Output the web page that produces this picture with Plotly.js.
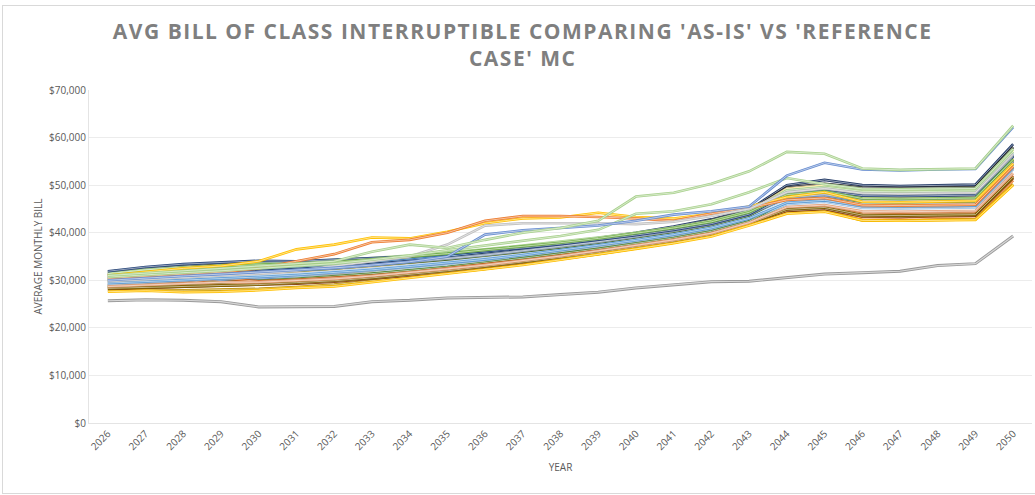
<!DOCTYPE html>
<html>
<head>
<meta charset="utf-8">
<script src="https://cdn.plot.ly/plotly-3.0.1.min.js"></script>
<style>
  body { margin: 0; background: #fff; }
  #wrap { position: relative; width: 1035px; height: 495px; overflow: hidden; }
  #frame { position: absolute; left: 2px; top: 5px; width: 1040px; height: 487px; border: 1px solid #d9d9d9; pointer-events: none; }
  .gtitle { letter-spacing: 1.5px; }
</style>
</head>
<body>
<div id="wrap">
  <div id="bill-chart" style="width:1035px;height:495px;"></div>
  <div id="frame"></div>
</div>
<script>
var years = ['2026','2027','2028','2029','2030','2031','2032','2033','2034','2035','2036','2037','2038','2039','2040','2041','2042','2043','2044','2045','2046','2047','2048','2049','2050'];

// 'as-is' case
var asIs = [25700,25900,25800,25500,24400,24500,24500,25500,25800,26300,26400,26500,27000,27500,28400,29100,29700,29800,30500,31300,31600,31900,33100,33500,39300];

// reference case monte carlo runs
var mc01 = [31500,31800,32200,32600,33000,33300,33700,34200,34800,35400,36200,37000,37900,38900,40000,41300,42800,44800,50000,51100,50000,49800,49900,50100,58600];
var mc02 = [31000,31600,32000,32300,32800,33100,33600,34100,34700,35300,36000,36800,37700,38700,39800,41000,42600,44600,49500,50300,49500,49400,49500,49600,58000];
var mc03 = [30500,31000,31300,31700,32000,32500,33000,33600,34300,35000,35800,36600,37500,38400,39500,40700,42200,44300,49200,49900,49000,48900,49100,49200,57400];
var mc04 = [30200,30600,31000,31400,31700,32100,32600,33200,33900,34700,35500,36300,37200,38100,39200,40400,41900,44000,48800,49500,48500,48400,48500,48600,56700];
var mc05 = [29800,30300,30700,31000,31300,31800,32300,32900,33600,34400,35200,36000,36900,37900,39000,40100,41600,43700,48300,49000,48000,47900,48000,48100,56200];
var mc06 = [31800,32500,33000,33600,33200,33400,33800,34200,34600,35100,35700,36400,37200,38100,39100,40200,41500,43400,47800,48500,47300,47200,47300,47400,55500];
var mc07 = [31200,32000,32600,33300,33000,33200,33500,33900,34400,35000,35600,36300,37100,38000,39000,40100,41400,43300,47500,48200,47000,46900,47000,47100,55200];
var mc08 = [29500,29800,30100,30300,30600,31000,31500,32100,32800,33500,34300,35100,36000,37000,38100,39300,40800,42900,47200,47900,46700,46600,46700,46800,54800];
var mc09 = [30800,31300,31700,32000,32400,32800,33300,33800,34400,35000,35700,36500,37400,38400,39500,40700,42000,44000,48000,48600,47600,47500,47600,47700,55800];
var mc10 = [28800,29000,29300,29500,29800,30200,30700,31300,32000,32800,33600,34500,35500,36500,37600,38700,40100,42200,46200,47000,45700,45600,45700,45800,53800];
var mc11 = [29000,29400,30600,30100,30400,30900,31500,32100,32900,33700,34600,35500,36500,37500,38600,39800,41200,43200,47000,47600,46300,46200,46300,46400,54400];
var mc12 = [28500,28700,29000,29200,29400,29700,30100,30600,31300,32000,32900,33800,34800,35900,37000,38200,39600,41800,44300,44700,43000,42900,43100,43200,51000];
var mc13 = [27800,28000,27900,28000,28200,28600,29100,29900,30700,31500,32400,33400,34400,35500,36700,37900,39400,41700,44200,44600,42600,42500,42700,42800,50200];
var mc14 = [28200,28400,28600,28800,29000,29300,29700,30300,31000,31800,32700,33600,34600,35700,36900,38100,39500,41900,44600,45000,43400,43300,43500,43600,51500];
var mc15 = [29300,29600,29900,30200,30500,30900,31400,32000,32700,33400,34200,35100,36100,37100,38200,39400,40800,42800,46000,46500,45200,45100,45200,45300,53300];
var mc16 = [29700,30000,30400,30700,31000,31400,31900,32500,33200,33900,34700,35600,36500,37500,38600,39800,41200,43200,46600,47100,45900,45800,45900,46000,54000];
var mc17 = [28600,28900,29200,29500,29900,30300,30800,31400,32100,32800,33700,34600,35600,36600,37700,38900,40300,42400,46800,47300,46100,46000,46100,46200,54200];
var mc18 = [30600,31100,31500,31800,32100,32600,33100,33700,34300,35000,35800,36700,37600,38600,39700,40900,42400,44500,48600,49200,48200,48100,48200,48300,56400];
var mc19 = [30000,30400,30800,31100,31500,31900,32400,33000,33700,34400,35200,36100,37000,38000,39100,40300,41700,43800,47800,48400,47400,47300,47400,47500,55600];
var mc20 = [28900,29100,29400,30400,29800,30100,30500,31000,31700,32500,33300,34200,35200,36200,37300,38500,39900,42000,45000,45500,44000,43900,44000,44100,52000];
var mc21 = [29100,29500,29900,30200,30600,31000,31500,32100,32800,33600,34400,35300,36300,37300,38400,39600,41000,43100,46400,46900,45500,45400,45500,45600,53600];
var mc22 = [31400,32200,32700,33100,33500,33800,34200,34700,35200,35800,36500,37300,38100,39000,40000,41100,42500,44500,48900,49600,48700,48600,48700,48800,57000];
var mc23 = [30300,30800,31200,31500,31900,32300,32800,33400,34000,34700,35500,36300,37200,38200,39300,40500,41900,44000,48400,49000,48000,47900,48000,48100,56300];
var mc24 = [28300,28500,28700,28900,29100,29500,29900,30500,31200,32000,32900,33800,34800,35800,37000,38200,39600,41900,44900,45300,43700,43600,43700,43800,51700];
var mc25 = [29600,29900,30300,30600,30900,31300,31800,32400,33100,33800,34600,35500,36500,37500,38600,39800,41200,43300,46700,47200,45900,45800,45900,46000,54100];
var mc26 = [29900,30400,30800,31300,31600,32000,32500,33100,33700,34400,35200,36000,36900,37900,39000,40200,41600,43600,47600,48200,47000,46900,47000,47100,55000];
var mc27 = [28700,29000,29300,29600,29600,29900,30300,30900,31600,32400,33200,34100,35100,36200,37300,38500,39900,42100,45400,45800,44500,44400,44500,44600,52500];
var mc28 = [30100,30500,30900,31200,31600,32000,32500,33100,33800,34500,35300,36200,37100,38100,39200,40400,41800,43900,47400,48000,46800,46700,46800,46900,55000];
var mc29 = [27600,27800,27500,27600,27900,28400,28700,29600,30400,31300,32200,33200,34300,35400,36600,37800,39200,41500,44000,44400,42600,42500,42600,42700,50000];
var mc30 = [29400,29700,30000,30400,30700,31100,31600,32200,32900,33600,34400,35300,36300,37300,38400,39600,41000,43000,46300,46800,45600,45500,45600,45700,53700];
var mc31 = [31900,32800,33400,33700,34100,34000,34300,34600,35000,35500,36100,36800,37600,38500,39500,40600,41900,43900,48100,48800,47800,47700,47800,47900,56000];
var mc32 = [30900,31700,32400,33000,33300,33500,33800,34400,35000,35600,36400,37100,37900,38800,39900,41000,42300,44300,48000,48700,47200,47100,47200,47300,55400];
var mc33 = [31000,31500,32000,32500,33000,33400,34000,36000,37500,36800,38500,40000,41000,42500,47600,48400,50300,52900,57000,56600,53500,53200,53300,53500,62500];
var mc34 = [30000,30500,30900,31300,31700,32100,32600,33200,33900,35000,39600,40500,41000,41500,42500,43800,44500,45500,52000,54700,53300,53100,53300,53400,62200];
var mc35 = [31000,31800,32500,33000,34000,36500,37500,39000,38800,40200,42000,43000,43200,44200,43300,43000,44000,45500,47500,48500,46500,46400,46600,46700,54500];
var mc36 = [30400,30900,31300,31700,32500,34000,35500,38000,38500,40000,42500,43500,43500,43300,43000,42500,44000,45200,46900,47300,45800,45700,45800,45900,53900];
var mc37 = [29800,30200,30600,31000,31400,32000,33000,34000,35000,37500,41500,42000,42000,42000,41800,42300,43500,45000,48500,49300,48300,48200,48300,48400,56500];
var mc38 = [30700,31200,31600,32000,32500,33000,33500,34300,35200,36300,37300,38300,39300,40600,44000,44500,46000,48500,51500,50200,49200,49100,49200,49300,57600];

var mcRuns = [mc01,mc02,mc03,mc04,mc05,mc06,mc07,mc08,mc09,mc10,mc11,mc12,mc13,mc14,mc15,mc16,mc17,mc18,mc19,mc20,
              mc21,mc22,mc23,mc24,mc25,mc26,mc27,mc28,mc29,mc30,mc31,mc32,mc35,mc36,mc37,mc38,mc34,mc33];
var mcColors = ['#203864','#262626','#ffe699','#8faadc','#255e91','#375623','#997300','#f4b183','#c9c9c9','#70ad47',
                '#4472c4','#ed7d31','#bf9000','#843c0c','#9dc3e6','#f8cbad','#548235','#2e75b6','#ffd966','#c55a11',
                '#a5a5a5','#a9d18e','#1f3864','#7f6000','#bdd7ee','#43682b','#e2a07a','#8497b0','#ffc000','#5b9bd5',
                '#264478','#70ad47','#ffc000','#ed7d31','#bfbfbf','#a9d18e','#698ed0','#a9d18e'];

var traces = [];
// each run is drawn as a coloured stroke with a pale core, like the excel lines
function addRun(ys, col, w, core) {
  traces.push({x: years, y: ys, type: 'scatter', mode: 'lines', hoverinfo: 'skip',
               line: {color: col, width: w}, showlegend: false});
  traces.push({x: years, y: ys, type: 'scatter', mode: 'lines', hoverinfo: 'skip',
               line: {color: 'rgba(255,255,255,0.6)', width: core}, showlegend: false});
}
for (var i = 0; i < mcRuns.length; i++) {
  addRun(mcRuns[i], mcColors[i], 2.6, 0.9);
}
addRun(asIs, '#9a9a9a', 3, 1.2);

var layout = {
  width: 1035,
  height: 495,
  margin: {l: 89, r: 3, t: 90, b: 72},
  paper_bgcolor: '#fff',
  plot_bgcolor: '#fff',
  showlegend: false,
  title: {
    text: "AVG BILL OF CLASS INTERRUPTIBLE COMPARING 'AS-IS' VS 'REFERENCE<br>CASE' MC",
    font: {family: 'Open Sans, sans-serif', size: 21, color: '#7f7f7f', weight: 'bold'},
    x: 0.505, xanchor: 'center', y: 0.922, yanchor: 'top'
  },
  xaxis: {
    type: 'category',
    range: [-0.5, 24.5],
    tickangle: -45,
    tickfont: {family: 'Open Sans, sans-serif', size: 10, color: '#595959'},
    showgrid: false,
    showline: true, linecolor: '#e4e4e4', linewidth: 1,
    ticks: '',
    title: {text: 'YEAR', font: {family: 'Open Sans, sans-serif', size: 10, color: '#595959'}, standoff: 12}
  },
  yaxis: {
    range: [0, 70000],
    dtick: 10000,
    tickprefix: '$',
    tickformat: ',',
    tickfont: {family: 'Open Sans, sans-serif', size: 10, color: '#595959'},
    gridcolor: '#ececec',
    zeroline: false,
    showline: true, linecolor: '#e4e4e4', linewidth: 1,
    ticks: '',
    title: {text: 'AVERAGE MONTHLY BILL', font: {family: 'Open Sans, sans-serif', size: 10, color: '#595959'}, standoff: 4}
  }
};

Plotly.newPlot('bill-chart', traces, layout, {staticPlot: true});
</script>
</body>
</html>
